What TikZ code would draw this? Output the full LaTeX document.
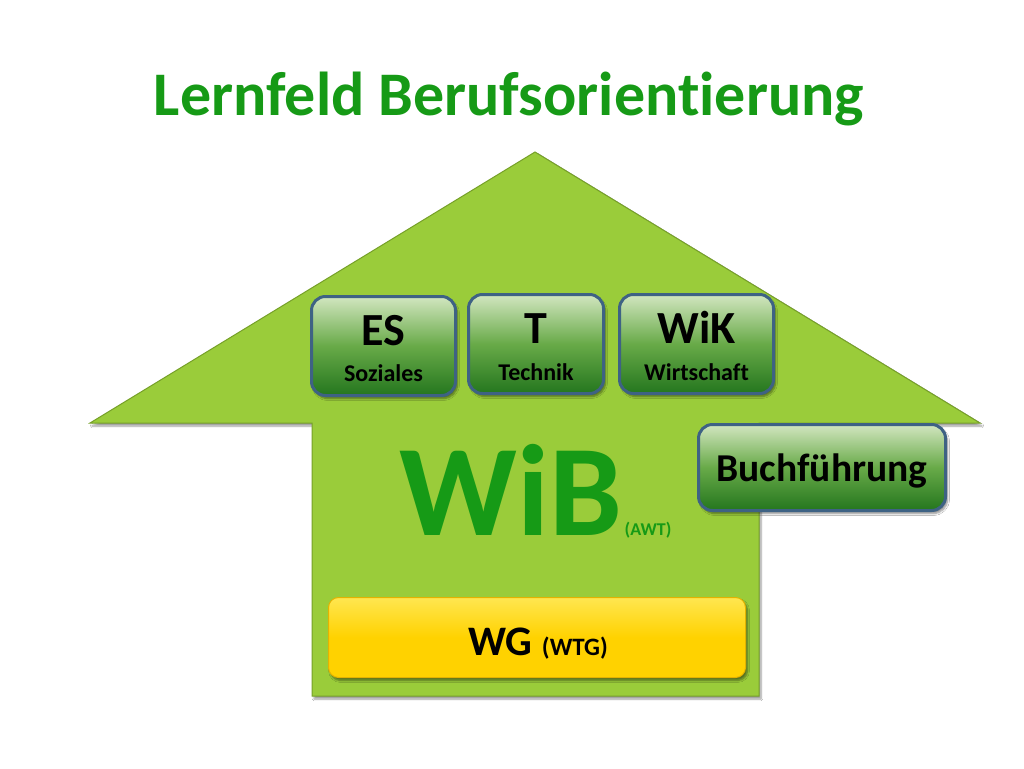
\documentclass[tikz,border=0pt]{standalone}
\usepackage{fontspec}
\setmainfont{Carlito}[Ligatures=NoCommon]
\usetikzlibrary{shadows.blur}
\definecolor{arrowgreen}{RGB}{154,204,58}
\definecolor{arrowedge}{RGB}{118,160,40}
\definecolor{titlegreen}{RGB}{22,154,22}
\definecolor{boxborder}{RGB}{62,98,132}
\definecolor{boxtop}{RGB}{210,230,192}
\definecolor{boxmid}{RGB}{104,170,72}
\definecolor{boxbot}{RGB}{36,118,30}
\definecolor{ytop}{RGB}{255,230,80}
\definecolor{ybot}{RGB}{255,210,0}
\definecolor{yedge}{RGB}{228,178,0}
\tikzset{
  gbox/.style={rectangle, rounded corners=14pt, draw=boxborder, line width=3pt,
    top color=boxtop, bottom color=boxbot, middle color=boxmid,
    blur shadow={shadow xshift=2pt, shadow yshift=-3pt, shadow blur steps=6, shadow opacity=45},
    inner sep=0pt},
  ybox/.style={rectangle, rounded corners=10pt, draw=yedge, line width=1pt,
    top color=ytop, bottom color=ybot, middle color=ybot,
    blur shadow={shadow xshift=2pt, shadow yshift=-3pt, shadow blur steps=6, shadow opacity=45},
    inner sep=0pt},
  bigtxt/.style={anchor=base, inner sep=0pt, text=black, font=\bfseries\fontsize{46}{50}\selectfont},
  smalltxt/.style={anchor=base, inner sep=0pt, text=black, font=\bfseries\fontsize{24}{28}\selectfont},
}
\begin{document}
\begin{tikzpicture}[x=1pt,y=-1pt]
\useasboundingbox (0,0) rectangle (1024,768);
\fill[white] (0,0) rectangle (1024,768);

% title
\node[anchor=base, inner sep=0pt, text=titlegreen, font=\bfseries\fontsize{62}{66}\selectfont] (title) at (509,115) {Lernfeld Berufsorientierung};

% arrow (house)
\path[fill=arrowgreen, draw=arrowedge, line width=1pt,
  blur shadow={shadow xshift=2pt, shadow yshift=-3pt, shadow blur steps=6, shadow opacity=40}]
  (535,152) -- (980,423) -- (759,423) -- (759,696) -- (312,696) -- (312,423) -- (90,423) -- cycle;

% WiB
\node[anchor=base, inner sep=0pt, text=titlegreen, font=\bfseries\fontsize{130}{134}\selectfont] (wib) at (511,535) {WiB};
\node[anchor=base west, inner sep=0pt, text=titlegreen, font=\bfseries\fontsize{18}{20}\selectfont] (awt) at ([xshift=2pt]wib.base east) {(AWT)};

% boxes
\node[gbox, minimum width=144pt, minimum height=99pt] (es) at (383.5,346) {};
\node[gbox, minimum width=135pt, minimum height=99pt] (t) at (536,344) {};
\node[gbox, minimum width=154pt, minimum height=99pt] (wik) at (696.5,344) {};
\node[gbox, minimum width=247pt, minimum height=86pt] (buch) at (822,467.5) {};
\node[ybox, minimum width=417pt, minimum height=80pt] (wg) at (537,637.5) {};

% box texts
\node[bigtxt] (esA) at (383.5,345) {ES};
\node[smalltxt] (esB) at (383.5,381) {Soziales};
\node[bigtxt] (tA) at (536,343) {T};
\node[smalltxt] (tB) at (536,380) {Technik};
\node[bigtxt] (wikA) at (696.5,343) {WiK};
\node[smalltxt] (wikB) at (696.5,380) {Wirtschaft};
\node[anchor=base, inner sep=0pt, text=black, font=\bfseries\fontsize{39.5}{43}\selectfont] (buchT) at (822,481) {Buchführung};
\node[anchor=base, inner sep=0pt, text=black, font=\bfseries\fontsize{42}{45}\selectfont] (wgT) at (538,655) {WG {\fontsize{25}{28}\selectfont(WTG)}};
\end{tikzpicture}
\end{document}
